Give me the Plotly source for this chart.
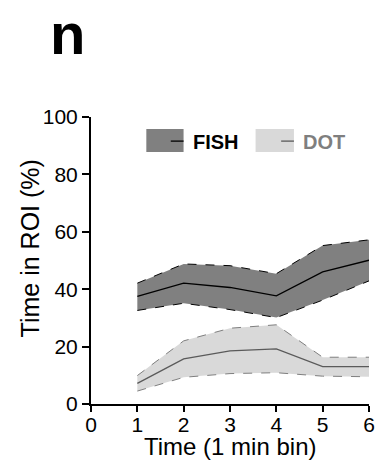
import plotly.graph_objects as go

time_bins = [1, 2, 3, 4, 5, 6]
fish_mean = [37.5, 42.1, 40.6, 37.7, 46.0, 50.1]
fish_upper = [42.1, 48.8, 48.2, 45.4, 55.2, 57.2]
fish_lower = [32.6, 35.1, 32.9, 30.1, 36.2, 42.9]
dot_mean = [7.2, 15.7, 18.5, 19.2, 13.0, 13.0]
dot_upper = [9.9, 22.0, 26.4, 27.6, 16.3, 16.3]
dot_lower = [4.5, 9.3, 10.6, 10.9, 9.7, 9.5]
x_ticks = [0, 1, 2, 3, 4, 5, 6]
y_ticks = [0, 20, 40, 60, 80, 100]

FONT = "Liberation Sans, Arial, sans-serif"
fig = go.Figure()

def band(lower, upper, mean, fill, edge, mline):
    fig.add_trace(go.Scatter(x=time_bins, y=lower, mode="lines",
                             line=dict(color=edge, width=1, dash="dash"),
                             showlegend=False, hoverinfo="skip"))
    fig.add_trace(go.Scatter(x=time_bins, y=upper, mode="lines", fill="tonexty",
                             fillcolor=fill,
                             line=dict(color=edge, width=1, dash="dash"),
                             showlegend=False, hoverinfo="skip"))
    fig.add_trace(go.Scatter(x=time_bins, y=mean, mode="lines",
                             line=dict(color=mline, width=1.3),
                             showlegend=False))

band(fish_lower, fish_upper, fish_mean, "#808080", "#000000", "#000000")
band(dot_lower, dot_upper, dot_mean, "#d9d9d9", "#7f7f7f", "#5a5a5a")

shapes = [
    dict(type="rect", xref="paper", yref="paper", x0=0.199, x1=0.333, y0=0.878, y1=0.958,
         fillcolor="#808080", line=dict(width=0)),
    dict(type="line", xref="paper", yref="paper", x0=0.287, x1=0.333, y0=0.916, y1=0.916,
         line=dict(color="#000000", width=1.3)),
    dict(type="rect", xref="paper", yref="paper", x0=0.592, x1=0.730, y0=0.878, y1=0.958,
         fillcolor="#d9d9d9", line=dict(width=0)),
    dict(type="line", xref="paper", yref="paper", x0=0.684, x1=0.730, y0=0.916, y1=0.916,
         line=dict(color="#5a5a5a", width=1.3)),
]
annotations = [
    dict(text="<b>FISH</b>", xref="paper", yref="paper", x=0.358, y=0.913, xanchor="left",
         yanchor="middle", showarrow=False, font=dict(family=FONT, size=20, color="#000000")),
    dict(text="<b>DOT</b>", xref="paper", yref="paper", x=0.755, y=0.913, xanchor="left",
         yanchor="middle", showarrow=False, font=dict(family=FONT, size=20, color="#7f7f7f")),
    dict(text="<b>n</b>", xref="paper", yref="paper", x=-0.155, y=1.172, xanchor="left",
         yanchor="bottom", showarrow=False, font=dict(family=FONT, size=58, color="#000000")),
    dict(text="Time (1 min bin)", xref="paper", yref="paper", x=0.5, y=-0.148, xanchor="center",
         yanchor="middle", showarrow=False, font=dict(family=FONT, size=24, color="#000000")),
    dict(text="Time in ROI (%)", xref="paper", yref="paper", x=-0.218, y=0.5436, xanchor="center",
         yanchor="middle", textangle=-90, showarrow=False,
         font=dict(family=FONT, size=25, color="#000000")),
]

fig.update_layout(
    width=387, height=476,
    margin=dict(l=91, r=14, t=117, b=72),
    paper_bgcolor="white", plot_bgcolor="white",
    font=dict(family=FONT, color="#000000"),
    shapes=shapes, annotations=annotations,
    xaxis=dict(range=[0, 6], tickvals=x_ticks, ticktext=[str(v) for v in x_ticks],
               showgrid=False, zeroline=False, showline=True, linecolor="black", linewidth=2,
               ticks="outside", ticklen=6, tickwidth=2, tickcolor="black",
               ticklabelstandoff=-5, tickfont=dict(size=21)),
    yaxis=dict(range=[0, 100], tickvals=y_ticks, ticktext=[str(v) for v in y_ticks],
               showgrid=False, zeroline=False, showline=True, linecolor="black", linewidth=2,
               ticks="outside", ticklen=7, tickwidth=2, tickcolor="black",
               tickfont=dict(size=21)),
)

fig.write_html("out.html")
